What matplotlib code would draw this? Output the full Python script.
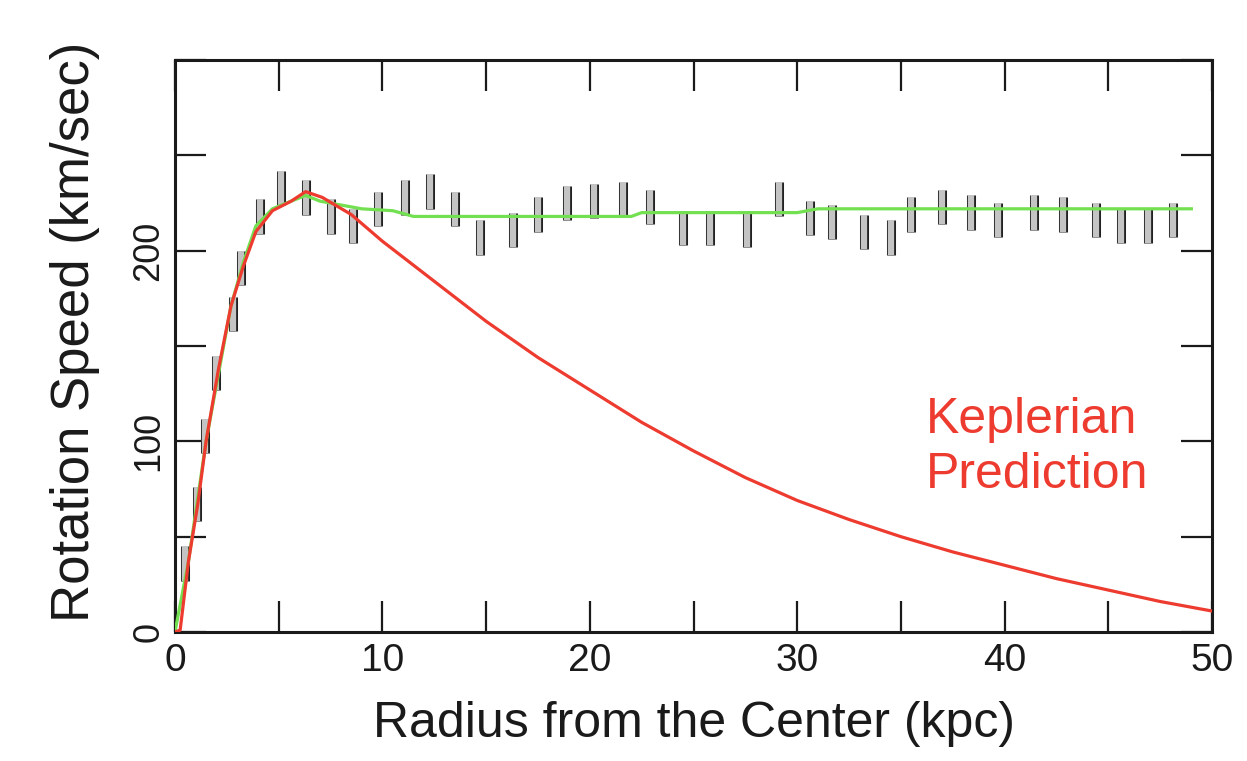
import matplotlib
matplotlib.use("Agg")
import matplotlib.pyplot as plt
import matplotlib.patheffects as pe

# Observed rotation speeds (kpc, km/sec)
OBS_R = [0.5, 1.05, 1.45, 2.0, 2.8, 3.2, 4.1, 5.1, 6.3, 7.5, 8.6, 9.8, 11.1, 12.3,
         13.5, 14.7, 16.3, 17.5, 18.9, 20.2, 21.6, 22.9, 24.5, 25.8, 27.6, 29.1,
         30.6, 31.7, 33.2, 34.5, 35.5, 37.0, 38.4, 39.7, 41.4, 42.8, 44.4, 45.6,
         46.9, 48.1]
OBS_V = [36, 67, 103, 136, 167, 191, 218, 233, 228, 218, 213, 222, 228, 231,
         222, 207, 211, 219, 225, 226, 227, 223, 212, 212, 211, 227,
         217, 215, 210, 207, 219, 223, 220, 216, 220, 219, 216, 213,
         213, 216]
OBS_ERR = 9

# Model fit through the data (green)
FIT_R = [0, 0.65, 1.5, 2.7, 3.3, 3.9, 4.7, 5.6, 6.3, 7.0, 8.0, 9.0, 10.5, 11.5,
         22.0, 22.5, 30.0, 31.0, 49.0]
FIT_V = [0, 37, 100, 171, 194, 213, 222, 226, 229, 226, 224, 222, 221, 218,
         218, 220, 220, 222, 222]

# Keplerian prediction (red)
KEP_R = [0, 0.25, 0.65, 1.1, 1.5, 2.1, 2.7, 3.3, 3.9, 4.7, 5.6, 6.3, 7.1, 8.5,
         10, 12.5, 15, 17.5, 20, 22.5, 25, 27.5, 30, 32.5, 35, 37.5, 40, 42.5,
         45, 47.5, 50]
KEP_V = [0, 1, 37, 67, 100, 138, 171, 192, 210, 221, 226, 231, 228, 219,
         205, 184, 163, 144, 127, 110, 95, 81, 69, 59, 50, 42, 35, 28,
         22, 16, 11]

X_TICKS = [0, 10, 20, 30, 40, 50]
Y_TICKS = [0, 100, 200]

RED = "#ee3b2f"
GREEN = "#72e050"
TEXT = "#1a1a1a"

plt.rcParams["font.family"] = ["Liberation Sans", "DejaVu Sans"]

fig = plt.figure(figsize=(12.47, 7.61), dpi=100)
ax = fig.add_axes([0.1403, 0.1695, 0.8317, 0.7515])

eb = ax.errorbar(OBS_R, OBS_V, yerr=OBS_ERR, fmt="none", ecolor="#c4c4c4",
                 elinewidth=4.5, zorder=2)
for coll in eb.lines[2]:
    coll.set_path_effects([pe.Stroke(linewidth=6.5, foreground="#222222"), pe.Normal()])

ax.plot(FIT_R, FIT_V, color=GREEN, lw=2.3, zorder=3)
ax.plot(KEP_R, KEP_V, color=RED, lw=2.3, zorder=4)

ax.text(36.2, 97, "Keplerian\nPrediction", color=RED, fontsize=36,
        ha="left", va="center", linespacing=1.25)

ax.set_xlim(0, 50)
ax.set_ylim(0, 300)
ax.set_xticks(X_TICKS)
ax.set_xticks(range(0, 51, 5), minor=True)
ax.set_yticks(Y_TICKS)
ax.set_yticks(range(0, 301, 50), minor=True)
ax.set_xticklabels([str(v) for v in X_TICKS])
ax.set_yticklabels([str(v) for v in Y_TICKS], rotation=90, va="center")

for which in ("major", "minor"):
    ax.tick_params(axis="both", which=which, direction="in", length=22, width=1.6,
                   top=True, right=True, colors=TEXT)
ax.tick_params(axis="x", which="major", labelsize=28, pad=8)
ax.tick_params(axis="y", which="major", labelsize=26, pad=6)

for spine in ax.spines.values():
    spine.set_linewidth(2.2)
    spine.set_color(TEXT)

ax.set_xlabel("Radius from the Center (kpc)", fontsize=36, color=TEXT, labelpad=16)
ax.set_ylabel("Rotation Speed (km/sec)", fontsize=38, color=TEXT)
ax.yaxis.set_label_coords(-0.072, 0.524)

fig.savefig("out.png", dpi=100, facecolor="white")
